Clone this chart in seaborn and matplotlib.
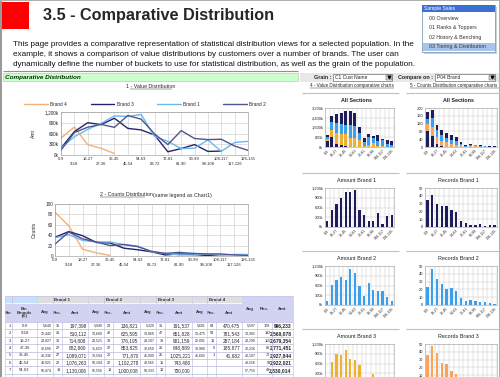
import numpy as np
import pandas as pd
import matplotlib
matplotlib.use("Agg")
import matplotlib.pyplot as plt
import seaborn as sns
from matplotlib.patches import Rectangle

nan = np.nan
# ---------------- data ----------------
bins = ["0-9", "9-18", "18-27", "27-36", "36-45", "45-54", "54-63", "63-72",
        "72-81", "81-90", "90-99", "99-108", "108-117", "117-126", "126-135"]
brands = ["Brand 1", "Brand 2", "Brand 3", "Brand 4"]

amt_b1 = [197, 510, 715, 883, 1089, 1076, 1130, 520, 380, 180, 190, 420, 100, 350, 380]
amt_b2 = [137, 626, 776, 854, 772, 1102, 1000, 590, 290, 680, 460, 430, 440, 250, 130]
amt_b3 = [192, 652, 901, 849, 1025, 743, 700, 560, 90, 180, 290, 100, 110, nan, nan]
amt_b4 = [470, 782, 287, 186, 42, nan, nan, nan, nan, nan, nan, nan, nan, nan, nan]

rec_b1 = [35, 41, 30, 27, 27, 22, 19, 8, 5, 2, 2, 4, 1, 3, 3]
rec_b2 = [23, 46, 33, 27, 20, 22, 18, 9, 5, 7, 5, 4, 4, 2, 1]
rec_b3 = [36, 47, 39, 26, 25, 15, 12, 8, 2, 4, 3, 1, 1, nan, nan]
rec_b4 = [84, 58, 13, 6, 1, nan, nan, nan, nan, nan, nan, nan, nan, nan, nan]

# table (rows 1..7)
tbl_bin = [1, 2, 3, 4, 5, 6, 7]
tbl_bounds = ["0-9", "9-18", "18-27", "27-36", "36-45", "45-54", "54-63"]
tbl_avg = [[5640, 12442, 23827, 32699, 40336, 48921, 59474],
           [5949, 13600, 23521, 31623, 38594, 50104, 55556],
           [5320, 13869, 23107, 32650, 41009, 49565, 58333],
           [5601, 13475, 22091, 30980, 41682, None, None]]
tbl_rec = [[35, 41, 30, 27, 27, 22, 19],
           [23, 46, 33, 27, 20, 22, 18],
           [36, 47, 39, 26, 25, 15, 12],
           [84, 58, 13, 6, 1, None, None]]
tbl_amt = [[197398, 510112, 714808, 882860, 1089071, 1076263, 1130006],
           [136821, 625595, 776195, 853825, 771870, 1102278, 1000008],
           [191537, 651828, 901159, 848889, 1025221, 743480, 700000],
           [470475, 781543, 287184, 185877, 41682, None, None]]
tot_avg = [5597, 13381, 23299, 32226, 40107, 49526, 57755]
tot_rec = [178, 192, 115, 86, 73, 59, 49]
tot_amt = [996233, 2569078, 2679354, 2771451, 2927844, 2922021, 2830014]

menu_items = ["00 Overview", "01 Ranks & Toppers", "02 History & Benching", "03 Tiering & Distribution"]
para = ["This page provides a comparative representation of statistical distribution views for a selected population. In the",
        "example, it shows a comparison of value distributions by customers over a number of brands. The user can",
        "dynamically define the number of buckets to use for statistical distribution, as well as the grain of the population."]

# colours
line_col = {"Brand 4": "#f5b075", "Brand 3": "#24246e", "Brand 1": "#6ab8f0", "Brand 2": "#50558f"}
navy, lblue, gold, orng = "#1d1d5c", "#3aa0ee", "#f0b030", "#f7a55a"

# ---------------- figure ----------------
W, H = 500, 377
sns.set_theme(style="whitegrid")
plt.rcParams['font.family'] = ['Liberation Sans', 'DejaVu Sans']
fig = plt.figure(figsize=(5, 3.77), dpi=100)
fig.patch.set_facecolor("white")
bg = fig.add_axes([0, 0, 1, 1])
bg.set_xlim(0, W); bg.set_ylim(H, 0); bg.axis("off")


def rect(x0, y0, x1, y1, fc, ec="none", lw=0.5, z=1):
    bg.add_patch(Rectangle((x0, y0), x1 - x0, y1 - y0, facecolor=fc, edgecolor=ec, lw=lw, zorder=z))


def txt(x, y, s, size, **kw):
    kw.setdefault("va", "center")
    bg.text(x, y, s, fontsize=size, **kw)


def hline(x0, x1, y, c, lw=0.6, z=3):
    bg.plot([x0, x1], [y, y], color=c, lw=lw, zorder=z, solid_capstyle="butt")


def ax_at(x0, y0, x1, y1):
    return fig.add_axes([x0 / W, 1 - y1 / H, (x1 - x0) / W, (y1 - y0) / H])


# frame
rect(0, 0, 2, H, "#9a9a9a", z=5)
rect(0, 0, W, 1, "#b0b0b0", z=5)
rect(W - 1, 0, W, H, "#b0b0b0", z=5)

# header
rect(1, 2, 29, 29, "#ff0000")
txt(43, 15.5, "3.5 - Comparative Distribution", 11.7, weight="bold")
for i, line in enumerate(para):
    txt(13, 45 + 10 * i, line, 5.85, color="#111111", zorder=2)

# menu
rect(424, 7, 497, 54, "#cfcfcf", z=4)
rect(422, 5, 495, 52, "white", ec="#7f9db9", lw=0.6, z=5)
rect(422, 5, 495, 12, "#3b6fd2", z=6)
txt(424, 8.7, "Sample Sales", 3.6, color="white", zorder=7)
rect(423, 42.5, 494.5, 51, "#a8c4ec", z=6)
for i, it in enumerate(menu_items):
    txt(429, 18.5 + 9.4 * i, it, 3.8, color="#333333", zorder=8)

# section header
hline(3, 298, 71.3, "#e07070", lw=0.8)
rect(3, 73, 298, 81, "#ccffcc", ec="#99cc99", lw=0.4)
txt(5, 77.2, "Comparative Distribution", 4.6, weight="bold", style="italic", color="#003300")
rect(300, 72.5, 499, 82, "#e8e8e8")
txt(331, 77.2, "Grain :", 3.9, weight="bold", ha="right")
rect(333, 74, 392, 80.5, "white", ec="#555555", lw=0.4, z=2)
txt(335, 77.2, "C1 Cust Name", 3.5, zorder=3)
rect(385.5, 74.5, 391.5, 80, "#d4d0c8", ec="#444444", lw=0.3, z=3)
bg.plot(388.5, 77.3, marker="v", ms=1.8, color="black", zorder=4)
txt(433, 77.2, "Compare on :", 3.9, weight="bold", ha="right")
rect(435, 74, 495, 80.5, "white", ec="#555555", lw=0.4, z=2)
txt(437, 77.2, "P04 Brand", 3.5, zorder=3)
rect(488.5, 74.5, 494.5, 80, "#d4d0c8", ec="#444444", lw=0.3, z=3)
bg.plot(491.5, 77.3, marker="v", ms=1.8, color="black", zorder=4)

# chart titles (left)
txt(151, 87, "1 - Value Distribution", 3.8, ha="center")
hline(130, 172, 89.3, "#222222", lw=0.3)
txt(100, 195, "2 - Counts Distribution", 3.8, ha="left")
hline(100, 145, 197.3, "#222222", lw=0.3)
txt(153, 195, "(same legend as Chart1)", 3.8, ha="left")

# ---------------- line charts ----------------
hue_order = ["Brand 4", "Brand 3", "Brand 1", "Brand 2"]
amts = {"Brand 1": amt_b1, "Brand 2": amt_b2, "Brand 3": amt_b3, "Brand 4": amt_b4}
recs = {"Brand 1": rec_b1, "Brand 2": rec_b2, "Brand 3": rec_b3, "Brand 4": rec_b4}
rows = []
for b in brands:
    for i in range(len(bins)):
        rows.append({"idx": i, "Brand": b, "amt": amts[b][i], "rec": recs[b][i]})
df = pd.DataFrame(rows)

xlabels_stag = [b if i % 2 == 0 else "\n" + b for i, b in enumerate(bins)]


def style_line_axes(ax, yticks, ylabs, ylabel):
    ax.set_xlim(0, len(bins) - 1)
    ax.set_xticks(range(len(bins)))
    ax.set_xticklabels(xlabels_stag, fontsize=3.0, linespacing=1.25)
    ax.set_yticks(yticks)
    ax.set_yticklabels(ylabs, fontsize=3.4)
    ax.set_ylim(yticks[0], yticks[-1])
    ax.set_xlabel("")
    ax.set_ylabel(ylabel, fontsize=3.6, labelpad=6)
    ax.tick_params(axis="both", length=0, pad=1.5)
    ax.grid(True, color="#c8c8c8", lw=0.4)
    for s in ax.spines.values():
        s.set_color("#909090"); s.set_linewidth(0.4)
    ax.set_facecolor("white")


ax1 = ax_at(61, 112, 248, 155)
sns.lineplot(data=df, x="idx", y="amt", hue="Brand", hue_order=hue_order,
             palette=line_col, ax=ax1, lw=1.0, estimator=None, sort=False)
style_line_axes(ax1, [0, 300, 600, 900, 1200], ["0k", "300k", "600k", "900k", "1,200k"], "Amt")
h, l = ax1.get_legend_handles_labels()
ax1.legend(h, l, loc="lower center", bbox_to_anchor=(0.45, 1.08), ncol=4, frameon=False,
           fontsize=3.4, handlelength=5, columnspacing=5, handletextpad=0.5, borderaxespad=0)

ax2 = ax_at(55, 204, 248, 256)
sns.lineplot(data=df, x="idx", y="rec", hue="Brand", hue_order=hue_order,
             palette=line_col, ax=ax2, lw=1.0, estimator=None, sort=False, legend=False)
style_line_axes(ax2, [0, 20, 40, 60, 80, 100], ["0", "20", "40", "60", "80", "100"], "Counts")

# ---------------- right small charts ----------------
txt(310, 86, "4 - Value Distribution comparative charts", 3.3, color="#222222")
hline(310, 394, 88.2, "#222222", lw=0.3)
txt(410, 86, "5 - Counts Distribution comparative charts", 3.3, color="#222222")
hline(410, 500, 88.2, "#222222", lw=0.3)

sec_tops = [93, 173, 251, 329]
left_titles = ["All Sections", "Amount Brand 1", "Amount Brand 2", "Amount Brand 3"]
right_titles = ["All Sections", "Records Brand 1", "Records Brand 2", "Records Brand 3"]
for s in sec_tops:
    hline(302, 399, s, "#c0c0c0", lw=0.8)
    hline(406, 500, s, "#c0c0c0", lw=0.8)

cat_labels = [b if i % 2 == 0 else "" for i, b in enumerate(bins)]
bdf = pd.DataFrame({"bin": bins,
                    "a1": amt_b1, "a2": amt_b2, "a3": amt_b3, "a4": amt_b4,
                    "r1": rec_b1, "r2": rec_b2, "r3": rec_b3, "r4": rec_b4}).fillna(0)


def style_small(ax, yticks, ylabs):
    ax.set_ylim(yticks[0], yticks[-1])
    ax.set_yticks(yticks)
    ax.set_yticklabels(ylabs, fontsize=2.9)
    ax.set_xticks(range(len(bins)))
    ax.set_xticklabels(cat_labels, fontsize=2.6, rotation=45, ha="right", rotation_mode="anchor")
    ax.set_xticks(np.arange(-0.5, len(bins), 1), minor=True)
    ax.set_xlim(-0.5, len(bins) - 0.5)
    ax.tick_params(axis="both", which="both", length=0, pad=1.2)
    ax.xaxis.grid(False, which="major")
    ax.xaxis.grid(True, which="minor", color="#c8c8c8", lw=0.35)
    ax.yaxis.grid(True, color="#c8c8c8", lw=0.35)
    ax.set_xlabel(""); ax.set_ylabel("")
    ax.set_facecolor("white")
    for sp in ax.spines.values():
        sp.set_color("#a0a0a0"); sp.set_linewidth(0.4)
    ax.set_axisbelow(True)


amt_ticks = ([0, 300, 600, 900, 1200], ["0k", "300k", "600k", "900k", "1,200k"])
rec_ticks = ([0, 10, 20, 30, 40, 50], ["0", "10", "20", "30", "40", "50"])
LX = (325, 394)
RX = (425, 497)
BW = 0.62

for k, s in enumerate(sec_tops):
    y0, y1 = s + 15, s + 54
    wt = "bold" if k == 0 else "normal"
    txt((LX[0] + LX[1]) / 2 - 3, s + 7, left_titles[k], 3.9, ha="center", weight=wt, color="#222222")
    txt((RX[0] + RX[1]) / 2 - 3, s + 7, right_titles[k], 3.9, ha="center", weight=wt, color="#222222")
    axl = ax_at(LX[0], y0, LX[1], y1)
    axr = ax_at(RX[0], y0, RX[1], y1)
    if k == 0:
        # stacked: bottom Brand 4, Brand 3, Brand 2, top Brand 1 (drawn as cumulative layers)
        c4 = bdf["a4"]; c3 = c4 + bdf["a3"]; c2 = c3 + bdf["a2"]; c1 = c2 + bdf["a1"]
        for vals, col in [(c1, navy), (c2, lblue), (c3, gold), (c4, navy)]:
            sns.barplot(x=bdf["bin"], y=vals, color=col, ax=axl, width=BW, saturation=1,
                        order=bins, linewidth=0)
        style_small(axl, [0, 800, 1600, 2400, 3200], ["0k", "800k", "1,600k", "2,400k", "3,200k"])
        r4 = bdf["r4"]; r3 = r4 + bdf["r3"]; r2 = r3 + bdf["r2"]; r1 = r2 + bdf["r1"]
        for vals, col in [(r1, navy), (r2, lblue), (r3, orng), (r4, navy)]:
            sns.barplot(x=bdf["bin"], y=vals, color=col, ax=axr, width=BW, saturation=1,
                        order=bins, linewidth=0)
        style_small(axr, [0, 40, 80, 120, 160, 200], ["0", "40", "80", "120", "160", "200"])
    else:
        colA = [navy, lblue, gold][k - 1]
        colR = [navy, lblue, orng][k - 1]
        sns.barplot(x=bdf["bin"], y=bdf[f"a{k}"], color=colA, ax=axl, width=0.5, saturation=1,
                    order=bins, linewidth=0)
        style_small(axl, *amt_ticks)
        sns.barplot(x=bdf["bin"], y=bdf[f"r{k}"], color=colR, ax=axr, width=0.5, saturation=1,
                    order=bins, linewidth=0)
        style_small(axr, *rec_ticks)

# ---------------- table ----------------
cols = [5, 12, 37, 53, 62, 88, 104, 113, 140, 156, 165, 192, 207, 216, 242, 257, 272, 293]
hdr_blue, hdr_grey, hdr_lav = "#c6e0fa", "#dedede", "#d2d2f2"
grid_c = "#b8b8e0"
rect(5, 296, 37, 303, hdr_blue, ec="white", lw=0.5)
for i in range(4):
    x0, x1 = cols[2 + 3 * i], cols[5 + 3 * i]
    rect(x0, 296, x1, 303, hdr_grey, ec="white", lw=0.5)
    txt((x0 + x1) / 2, 299.6, brands[i], 3.2, ha="center", weight="bold", color="#333333")
for j, lab in enumerate(["Avg", "Rec.", "Amt"]):
    x0, x1 = cols[14 + j], cols[15 + j]
    rect(x0, 296, x1, 322, hdr_lav, ec="white", lw=0.5)
    txt((x0 + x1) / 2, 309, lab, 3.2, ha="center", weight="bold", color="#333333")
sub = ["Bin", "Bin\nBounds\n(K)"] + ["Avg", "Rec.", "Amt"] * 4
for j, lab in enumerate(sub):
    x0, x1 = cols[j], cols[j + 1]
    rect(x0, 303, x1, 322, hdr_lav, ec="white", lw=0.5)
    txt((x0 + x1) / 2, 312.5, lab, 3.0, ha="center", weight="bold", color="#333333", linespacing=1.0)

rh = 7.4
for r in range(len(tbl_bin)):
    yt = 322 + r * rh
    yc = yt + rh / 2 + 0.2
    rect(5, yt, 293, yt + rh, "white", ec="none")
    hline(5, 293, yt + rh, grid_c, lw=0.5)
    txt(10, yc, str(tbl_bin[r]), 3.0, ha="center")
    txt(24.5, yc, tbl_bounds[r], 3.0, ha="center")
    for b in range(4):
        xa, xr, xm, xe = cols[2 + 3 * b], cols[3 + 3 * b], cols[4 + 3 * b], cols[5 + 3 * b]
        if tbl_avg[b][r] is not None:
            txt(xr - 1.5, yc, f"{tbl_avg[b][r]:,}", 2.5, ha="right")
            txt(xm - 1.5, yc, f"{tbl_rec[b][r]}", 2.7, ha="right")
            txt(xe - 1.5, yc, f"{tbl_amt[b][r]:,}", 3.4, ha="right")
    txt(cols[15] - 1.5, yc, f"{tot_avg[r]:,}", 2.5, ha="right")
    txt(cols[16] - 1.5, yc, f"{tot_rec[r]}", 2.7, ha="right")
    txt(cols[17] - 1.5, yc, f"{tot_amt[r]:,}", 3.6, ha="right", weight="bold")
for x in cols:
    bg.plot([x, x], [296, H], color=grid_c, lw=0.4, zorder=3)
hline(5, 293, 296, grid_c, lw=0.5)
hline(5, 293, 322, grid_c, lw=0.5)

fig.savefig("out.png", dpi=100)
